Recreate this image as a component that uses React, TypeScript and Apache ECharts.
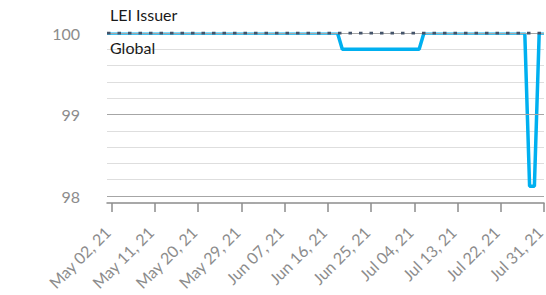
import React, { useEffect, useRef } from "react";
import * as echarts from "echarts";

const MONTHS = ["Jan", "Feb", "Mar", "Apr", "May", "Jun", "Jul", "Aug", "Sep", "Oct", "Nov", "Dec"];

function fmt(d: Date): string {
  const dd = String(d.getUTCDate()).padStart(2, "0");
  const yy = String(d.getUTCFullYear()).slice(2);
  return `${MONTHS[d.getUTCMonth()]} ${dd}, ${yy}`;
}

// All days on the axis (May 01, 21 .. Jul 31, 21)
const categories: string[] = [];
for (let t = Date.UTC(2021, 4, 1); t <= Date.UTC(2021, 6, 31); t += 86400000) {
  categories.push(fmt(new Date(t)));
}

const tickLabels = [
  "May 02, 21", "May 11, 21", "May 20, 21", "May 29, 21", "Jun 07, 21", "Jun 16, 21",
  "Jun 25, 21", "Jul 04, 21", "Jul 13, 21", "Jul 22, 21", "Jul 31, 21",
];

const leiDates = [
  "May 01, 21", "Jun 18, 21", "Jun 19, 21", "Jul 05, 21", "Jul 06, 21",
  "Jul 27, 21", "Jul 28, 21", "Jul 29, 21", "Jul 30, 21", "Jul 31, 21",
];
const leiValues = [100, 100, 99.8, 99.8, 100, 100, 98.12, 98.12, 100, 100];

const globalDates = ["May 01, 21", "Jul 31, 21"];
const globalValues = [100, 100];

const yMajorLabels = [98, 99, 100];

const FONT = "Lato";

export default function App() {
  const ref = useRef<HTMLDivElement>(null);
  useEffect(() => {
    if (!ref.current) return;
    const chart = echarts.init(ref.current, null, { renderer: "svg" });
    const showTick = (_i: number, v: string) => tickLabels.includes(v);
    chart.setOption({
      animation: false,
      grid: { left: 107, right: 2, top: 33, bottom: 99, containLabel: false, outerBoundsMode: "none" },
      xAxis: {
        type: "category",
        data: categories,
        boundaryGap: false,
        offset: 7,
        axisLine: { lineStyle: { color: "#8c8c8c", width: 1.5 } },
        axisTick: { show: true, interval: showTick, length: 9, lineStyle: { color: "#8c8c8c", width: 1.5 } },
        axisLabel: {
          interval: showTick,
          rotate: 45,
          margin: 22,
          padding: [0, 6, 0, 0],
          color: "#8c8c8c",
          fontFamily: FONT,
          fontSize: 16,
        },
        splitLine: { show: false },
      },
      yAxis: [
        {
          type: "value",
          min: 98,
          max: 100,
          interval: 1,
          z: 3,
          axisLine: { show: false },
          axisTick: { show: false },
          axisLabel: {
            margin: 27,
            color: "#8c8c8c",
            fontFamily: FONT,
            fontSize: 16,
            formatter: (v: number) => (yMajorLabels.includes(Math.round(v)) ? String(Math.round(v)) : ""),
          },
          splitLine: { lineStyle: { color: "#a6a6a6", width: 1.2 } },
        },
        {
          type: "value",
          min: 98,
          max: 100,
          interval: 0.2,
          z: 1,
          position: "left",
          axisLine: { show: false },
          axisTick: { show: false },
          axisLabel: { show: false },
          splitLine: { lineStyle: { color: "#dedede", width: 1.2 } },
        },
      ],
      series: [
        {
          name: "LEI Issuer",
          type: "line",
          yAxisIndex: 0,
          data: leiDates.map((d, i) => [d, leiValues[i]]),
          showSymbol: false,
          symbol: "none",
          lineStyle: { color: "#00b0f0", width: 3.5 },
          z: 2,
        },
        {
          name: "Global",
          type: "line",
          yAxisIndex: 0,
          data: globalDates.map((d, i) => [d, globalValues[i]]),
          showSymbol: false,
          symbol: "none",
          lineStyle: { color: "#44546a", width: 3, type: [3.5, 7] },
          z: 4,
        },
      ],
      graphic: [
        {
          type: "rect",
          shape: { x: 100, y: 26, width: 446, height: 6.4 },
          style: { fill: "#ffffff" },
          silent: true,
          z: 3,
        },
        {
          type: "text",
          left: 110,
          top: 6,
          style: { text: "LEI Issuer", fill: "#1a1a1a", fontFamily: FONT, fontSize: 16 },
          z: 10,
        },
        {
          type: "text",
          left: 110,
          top: 39,
          style: { text: "Global", fill: "#1a1a1a", fontFamily: FONT, fontSize: 16 },
          z: 10,
        },
      ],
    });
    return () => chart.dispose();
  }, []);
  return <div ref={ref} style={{ width: 546, height: 295, position: "absolute", left: 0, top: 0 }} />;
}
